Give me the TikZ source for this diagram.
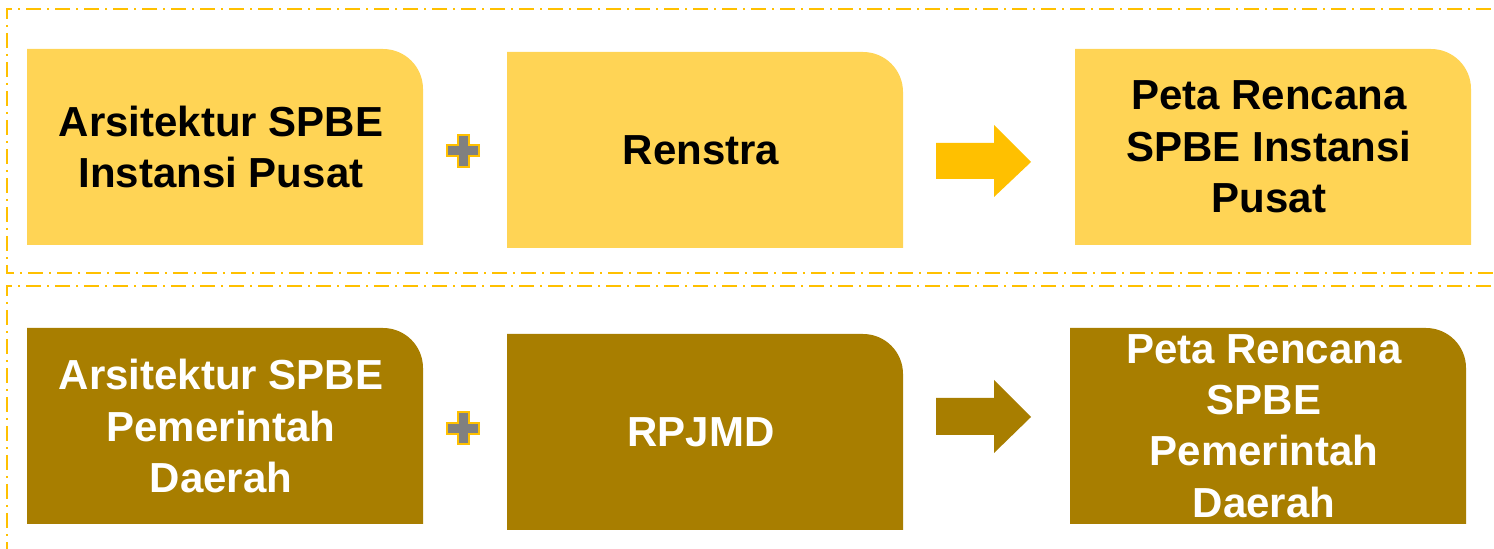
\documentclass[tikz,border=0pt]{standalone}
\usepackage{fontspec}
\setmainfont{Liberation Sans}
\definecolor{boxyellow}{HTML}{FFD455}
\definecolor{boxbrown}{HTML}{A87E00}
\definecolor{accent}{HTML}{FFC000}
\definecolor{plusgray}{HTML}{808080}
\begin{document}
\begin{tikzpicture}[x=0.75pt,y=0.75pt,
  rbox/.style={minimum width=303pt, minimum height=147pt, inner sep=0pt,
    align=center, font=\fontsize{31.5}{38.5}\selectfont\bfseries,
    path picture={\fill[#1] ([xshift=6pt]path picture bounding box.south west) -- ([xshift=6pt]path picture bounding box.north west)
      -- ([xshift=-30pt]path picture bounding box.north east) arc[start angle=90,end angle=0,radius=30pt]
      -- (path picture bounding box.south east) -- cycle;}},
  frame/.style={draw=accent, line width=1.5pt, dash pattern=on 11.25pt off 4.5pt on 1.5pt off 4.5pt},
  plussign/.style={fill=plusgray, draw=accent, line width=1.5pt},
]
\useasboundingbox (0,0) rectangle (1494,549);
% frames
\draw[frame] (1520,540) -- (7,540) -- (7,276) -- (1520,276);
\draw[frame] (1520,263) -- (7,263) -- (7,-20);
% top row (node centre 4px left of box centre, so text sits as in the reference)
\node[rbox=boxyellow, text=black] (a1) at (221,402) {Arsitektur SPBE\\Instansi Pusat};
\node[rbox=boxyellow, text=black] (a2) at (701,399) {Renstra};
\node[rbox=boxyellow, text=black] (a3) at (1269,402) {Peta Rencana\\SPBE Instansi\\Pusat};
% bottom row
\node[rbox=boxbrown, text=white] (b1) at (221,123) {Arsitektur SPBE\\Pemerintah\\Daerah};
\node[rbox=boxbrown, text=white] (b2) at (701,117) {RPJMD};
\node[rbox=boxbrown, text=white] (b3) at (1264,123) {Peta Rencana\\SPBE\\Pemerintah\\Daerah};
% plus signs
\foreach \cy in {398,120.5}{
  \draw[plussign] (447,\cy-5.5) -- (457.5,\cy-5.5) -- (457.5,\cy-16) -- (468.5,\cy-16) -- (468.5,\cy-5.5)
    -- (479,\cy-5.5) -- (479,\cy+5.5) -- (468.5,\cy+5.5) -- (468.5,\cy+16) -- (457.5,\cy+16)
    -- (457.5,\cy+5.5) -- (447,\cy+5.5) -- cycle;
}
% arrows
\fill[accent] (936,370) -- (936,406) -- (994,406) -- (994,424) -- (1031,387) -- (994,352) -- (994,370) -- cycle;
\fill[boxbrown] (936,114) -- (936,151) -- (994,151) -- (994,169) -- (1031,132) -- (994,96) -- (994,114) -- cycle;
\end{tikzpicture}
\end{document}
